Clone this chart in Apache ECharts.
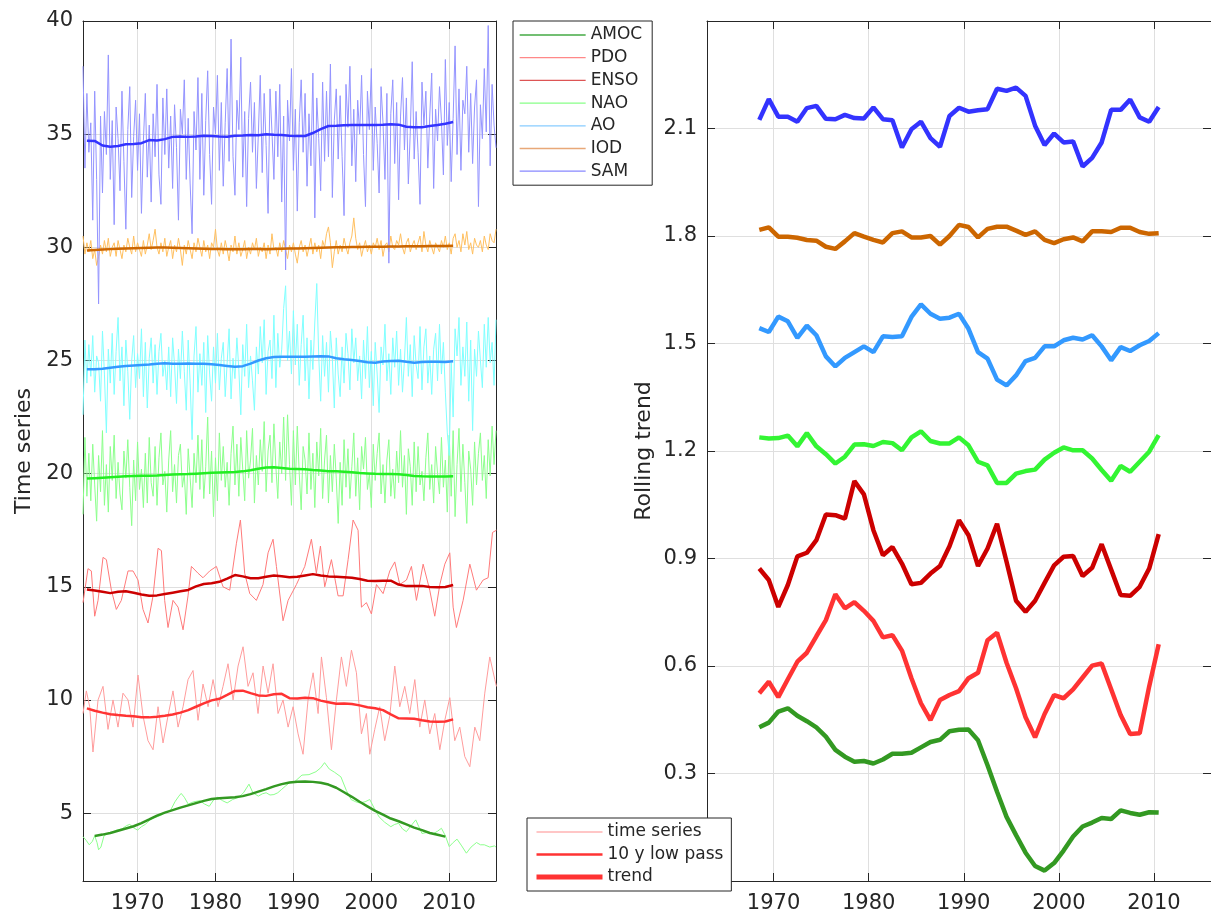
<!DOCTYPE html>
<html>
<head>
<meta charset="utf-8">
<title>Time series and rolling trend</title>
<script src="https://cdn.jsdelivr.net/npm/echarts@6/dist/echarts.min.js"></script>
<style>
  html, body { margin: 0; padding: 0; background: #fff; }
  #chart { width: 1211px; height: 916px; }
</style>
</head>
<body>
<div id="chart"></div>
<script>
// ---- data ----
// thin "time series" lines, quarterly from 1963.0 (SAM, AO, NAO, IOD)
const tsStart = 1963;
const tsStep = 0.25;
const samTs = [
  38.0, 33.5, 36.8, 34.2, 35.5, 31.2, 36.9, 33.0, 27.5, 35.8, 32.4, 36.0, 34.1, 38.5, 33.0, 35.6,
  31.0, 36.2, 34.8, 32.5, 36.9, 33.8, 30.8, 35.2, 37.1, 32.2, 34.9, 36.5, 33.4, 35.9, 31.5, 34.7,
  36.8, 33.1, 35.4, 32.0, 35.9, 34.0, 37.2, 33.2, 31.9, 36.6, 34.1, 37.0, 33.5, 35.8, 32.6, 36.3,
  34.4, 31.2, 36.1, 35.0, 37.4, 33.0, 35.7, 32.8, 30.6, 36.0, 34.3, 37.5, 33.0, 36.8, 32.3, 35.6,
  37.8, 34.1, 31.9, 36.2, 35.0, 37.6, 33.4, 36.4, 32.7, 35.5, 37.9, 33.8, 39.2, 34.0, 32.3, 36.5,
  35.2, 38.4, 33.1, 36.0, 31.8, 35.7, 37.3, 34.2, 36.4, 32.6, 35.0, 37.6, 33.3, 36.8, 34.5, 31.5,
  37.0, 35.1, 33.0, 36.9, 34.0, 37.2, 32.0, 35.8, 29.0, 36.5, 34.7, 37.9, 33.4, 36.1, 31.6, 35.5,
  37.4, 34.2, 36.8, 32.7, 35.9, 33.6, 37.7, 31.3, 36.6, 34.8, 32.5, 37.3, 33.8, 36.9, 34.0, 38.1,
  32.2, 35.6, 37.0, 33.9, 36.7, 34.0, 31.4, 37.2, 35.3, 38.0, 33.6, 36.1, 32.9, 36.5, 35.0, 37.6,
  34.1, 31.8, 36.9, 35.2, 37.9, 33.4, 36.2, 34.6, 32.4, 37.1, 35.5, 33.0, 36.8, 29.3, 35.9, 37.4,
  33.7, 36.4, 32.1, 35.8, 37.5, 34.3, 36.6, 32.8, 35.1, 38.2, 33.9, 36.0, 34.2, 31.9, 37.3, 35.4,
  36.9, 33.5, 35.8, 37.7, 32.6, 36.1, 34.7, 37.1, 35.6, 33.2, 38.3, 34.5, 36.4, 32.9, 35.7, 38.9,
  34.1, 37.0, 33.4, 36.5, 35.9, 38.0, 34.2, 36.8, 33.7, 36.2, 37.4, 31.8, 36.3, 34.8, 37.9, 35.1,
  39.8, 33.6, 37.2, 35.4, 34.4
];
const iodTs = [
  30.5, 29.7, 30.2, 29.8, 30.3, 29.5, 29.9, 29.2, 29.6, 30.1, 29.7, 30.3, 29.8, 30.4, 29.6, 30.0,
  30.2, 29.6, 30.3, 29.9, 29.5, 30.1, 29.8, 30.4, 30.0, 29.7, 30.5, 29.8, 30.2, 29.9, 29.6, 30.3,
  29.7, 30.1, 30.6, 29.9, 30.3, 30.8, 30.0, 29.7, 30.2, 29.8, 30.4, 29.6, 30.0, 30.3, 29.5, 30.1,
  29.8, 30.4, 29.9, 29.2, 30.1, 29.7, 30.3, 29.9, 29.5, 30.2, 29.8, 30.4, 30.0, 29.6, 30.3, 29.8,
  30.1, 29.5, 30.2, 30.0, 30.8, 29.9, 29.6, 30.2, 29.7, 30.3, 29.9, 29.4, 30.1, 29.8, 30.5, 29.7,
  30.2, 29.6, 29.9, 30.3, 29.5, 30.0, 29.7, 30.2, 29.9, 30.4, 29.6, 30.0, 29.8, 30.2, 29.5, 30.1,
  29.7, 30.6, 29.9, 30.0, 29.6, 30.2, 29.8, 30.3, 29.9, 29.5, 30.1, 29.8, 30.2, 29.7, 29.3, 30.0,
  30.3, 29.8, 30.1, 29.6, 30.0, 30.4, 29.7, 30.2, 29.8, 30.1, 29.5, 30.3, 30.0, 30.6, 30.9, 30.2,
  29.1, 29.8, 30.3, 29.7, 30.1, 29.8, 30.4, 30.0, 29.7, 30.2, 30.5, 31.3, 30.4, 29.9, 30.2, 29.6,
  30.0, 30.3, 29.8, 30.1, 29.7, 30.2, 30.0, 30.4, 29.9, 30.3, 29.6, 30.1, 30.2, 29.8, 30.5, 30.0,
  29.9, 30.3, 30.1, 30.6, 30.0, 29.7, 30.2, 30.4, 29.8, 30.1, 30.3, 29.9, 30.2, 30.5, 29.8, 30.7,
  30.1, 29.8, 30.3, 30.0, 29.7, 30.2, 30.0, 29.8, 30.3, 30.0, 30.5, 29.9, 30.2, 29.7, 30.4, 30.6,
  30.0, 30.3, 29.8, 30.6, 30.1, 30.7, 29.9, 30.2, 29.7, 30.4, 30.1, 30.0, 30.3, 29.8, 30.5, 30.1,
  29.9, 30.6, 30.3, 30.2, 30.8
];
const aoTs = [
  22.6, 25.9, 24.0, 25.7, 24.3, 26.1, 23.6, 25.2, 24.9, 23.2, 26.3, 24.4, 21.8, 25.5, 24.0, 26.2,
  23.5, 25.4, 26.9, 24.1, 25.6, 23.0, 25.9, 24.5, 22.4, 25.0, 26.1, 23.8, 25.3, 24.2, 26.4, 23.4,
  25.8, 22.9, 25.1, 26.0, 24.0, 25.7, 23.5, 25.4, 26.2, 24.3, 25.0, 23.7, 25.6, 23.4, 26.0, 24.8,
  23.1, 25.5, 24.2, 26.3, 24.5, 22.8, 25.9, 24.0, 21.5, 25.2, 26.5, 23.6, 25.3, 23.9, 25.8, 22.7,
  26.1, 24.4, 23.2, 25.6, 24.0, 26.2, 23.7, 25.1, 25.8, 23.4, 24.9, 26.4, 23.3, 25.1, 24.2, 26.0,
  24.6, 22.6, 25.7, 24.3, 26.6, 23.8, 25.2, 24.1, 22.8, 25.6, 24.4, 26.5, 24.9, 26.8, 23.5, 25.4,
  25.9, 24.2, 27.0, 23.8, 26.2, 24.7, 25.5, 27.3, 28.3, 25.0, 26.3, 24.4, 27.2, 24.8, 26.6, 23.9,
  25.7, 27.0, 24.1, 26.0, 23.3, 25.9, 24.6, 26.7, 28.4, 25.2, 23.2, 26.1, 24.3, 25.8, 23.6, 26.3,
  25.1, 22.9, 26.0, 24.4, 23.4, 25.6, 24.0, 26.2, 25.3, 23.7, 26.4, 24.9, 26.0, 24.1, 25.2, 23.3,
  25.9, 24.2, 26.5, 23.8, 25.4, 23.0, 25.8, 24.4, 22.7, 25.6, 24.8, 26.6, 24.1, 25.3, 23.5, 26.0,
  24.7, 26.3, 23.9, 25.5, 23.6, 25.0, 26.9, 24.3, 25.7, 23.4, 26.1, 24.8, 24.2, 26.5, 23.7, 25.6,
  26.4, 24.0, 25.2, 23.5, 25.5, 26.2, 24.1, 26.6, 24.4, 25.8, 23.6, 21.8, 20.8, 24.9, 22.5, 26.4,
  25.2, 26.9, 23.9, 25.6, 24.3, 26.7, 23.2, 25.9, 21.9, 25.5, 24.3, 26.3, 25.0, 23.8, 26.6, 24.7,
  26.9, 24.9, 25.8, 23.9, 26.8
];
const naoTs = [
  18.2, 21.6, 19.0, 20.9, 18.8, 21.3, 19.5, 17.9, 20.8, 19.2, 21.9, 18.6, 20.4, 18.3, 21.2, 19.7,
  21.7, 18.9, 20.5, 19.1, 18.4, 21.0, 19.8, 21.5, 19.4, 17.7, 20.6, 18.8, 21.4, 19.3, 20.2, 18.5,
  20.9, 18.7, 21.6, 19.6, 19.0, 21.2, 18.6, 20.7, 21.8, 19.5, 20.1, 18.3, 20.6, 21.9, 19.2, 20.4,
  18.7, 20.8, 21.3, 19.4, 20.0, 18.2, 21.1, 19.8, 18.5, 20.9, 19.6, 21.7, 19.3, 21.5, 18.9, 20.3,
  22.5, 19.1, 21.0, 18.1, 20.7, 18.8, 21.8, 19.7, 21.2, 19.4, 20.5, 18.6, 20.9, 22.1, 19.5, 21.3,
  19.0, 21.6, 20.2, 18.8, 21.9, 19.8, 20.6, 22.0, 18.7, 20.8, 19.5, 21.5, 20.1, 22.3, 19.2, 21.0,
  21.7, 19.6, 22.2, 20.3, 18.9, 21.4, 20.0, 22.5, 19.7, 22.6, 20.4, 18.6, 21.9, 19.5, 22.1, 20.0,
  18.4, 21.2, 20.6, 19.1, 21.8, 19.3, 20.9, 18.5, 21.4, 19.9, 22.0, 18.9, 20.6, 21.7, 18.7, 20.8,
  19.2, 21.3, 19.8, 17.8, 20.5, 18.6, 21.5, 19.4, 21.1, 18.9, 20.3, 21.8, 19.0, 20.7, 18.4, 21.2,
  20.2, 21.6, 19.3, 20.0, 18.5, 21.3, 19.7, 20.9, 21.8, 19.1, 20.4, 18.7, 20.6, 21.5, 19.0, 20.2,
  18.9, 21.0, 19.6, 21.9, 19.4, 20.8, 18.2, 21.1, 20.3, 18.6, 21.4, 19.2, 21.2, 19.5, 20.1, 18.8,
  20.7, 21.8, 19.3, 20.4, 18.7, 21.2, 20.0, 19.1, 21.6, 19.4, 20.6, 18.3, 21.7, 19.0, 21.9, 18.1,
  20.4, 22.0, 19.2, 21.3, 19.6, 17.8, 21.0, 20.2, 18.6, 21.4, 19.5, 20.9, 21.8, 19.7, 20.8, 18.9,
  21.5, 19.9, 22.1, 20.4, 21.9
];
// thin lines with irregular spacing: [year, value]
const ensoTs = [
  [1963.0, 14.3], [1963.64, 15.8], [1964.07, 15.7], [1964.5, 13.7], [1964.93, 14.4], [1965.57, 16.3],
  [1966.0, 16.2], [1966.64, 14.85], [1967.28, 14.0], [1967.92, 14.4], [1968.78, 15.7], [1969.42, 15.7],
  [1970.06, 15.3], [1970.7, 14.0], [1971.34, 13.4], [1971.99, 14.6], [1972.63, 16.7], [1973.06, 16.6],
  [1973.48, 14.4], [1973.91, 13.2], [1974.55, 14.4], [1975.2, 14.1], [1975.84, 13.1], [1976.48, 14.6],
  [1976.91, 15.9], [1977.76, 15.6], [1978.4, 15.4], [1979.26, 15.7], [1980.12, 15.9], [1980.97, 15.0],
  [1981.83, 14.85], [1982.68, 16.9], [1983.2, 17.95], [1983.75, 15.6], [1984.4, 14.7], [1985.25, 14.4],
  [1986.1, 15.1], [1986.75, 16.5], [1987.39, 17.1], [1987.82, 15.9], [1988.67, 13.5], [1989.32, 14.4],
  [1990.39, 15.1], [1991.46, 15.9], [1992.31, 17.1], [1992.95, 15.6], [1993.47, 16.8], [1994.02, 15.0],
  [1994.88, 16.2], [1995.73, 14.6], [1996.38, 14.6], [1997.02, 16.2], [1997.66, 17.95], [1998.3, 17.5],
  [1998.73, 14.1], [1999.37, 14.3], [2000.01, 13.8], [2000.66, 15.1], [2001.51, 14.7], [2002.37, 15.7],
  [2003.01, 16.1], [2003.65, 15.1], [2004.51, 15.3], [2005.15, 15.9], [2005.79, 14.4], [2006.65, 16.0],
  [2007.5, 14.85], [2008.14, 13.7], [2008.79, 15.1], [2009.43, 16.0], [2010.07, 16.5], [2010.5, 14.1],
  [2010.92, 13.2], [2011.78, 14.4], [2012.64, 16.0], [2013.49, 14.85], [2014.35, 15.3], [2014.99, 15.4],
  [2015.55, 17.4], [2016.06, 17.5]
];
const pdoTs = [
  [1963.0, 9.4], [1963.43, 10.4], [1963.86, 9.7], [1964.28, 7.7], [1964.93, 10.0], [1965.57, 10.6],
  [1966.21, 8.7], [1966.85, 10.0], [1967.49, 8.8], [1968.13, 10.3], [1968.78, 10.0], [1969.42, 8.8],
  [1970.06, 11.1], [1970.7, 9.3], [1971.34, 8.2], [1971.99, 7.8], [1972.63, 9.7], [1973.27, 8.1],
  [1973.91, 9.3], [1974.55, 10.4], [1975.2, 8.8], [1975.84, 9.7], [1976.48, 10.9], [1977.12, 11.3],
  [1977.76, 9.1], [1978.4, 10.7], [1979.05, 9.7], [1979.69, 10.9], [1980.33, 9.7], [1980.97, 10.6],
  [1981.61, 11.6], [1982.26, 10.0], [1982.9, 11.5], [1983.54, 12.35], [1984.18, 10.6], [1984.82, 11.2],
  [1985.46, 9.4], [1986.11, 11.5], [1986.75, 10.3], [1987.39, 11.6], [1988.03, 9.4], [1988.67, 10.0],
  [1989.32, 8.8], [1989.96, 9.7], [1990.6, 8.5], [1991.24, 7.6], [1991.88, 10.0], [1992.53, 11.2],
  [1993.17, 9.4], [1993.6, 11.9], [1994.24, 10.1], [1994.88, 7.8], [1995.52, 10.0], [1996.16, 11.9],
  [1996.8, 10.6], [1997.45, 12.2], [1998.09, 11.2], [1998.73, 8.5], [1999.37, 9.4], [1999.8, 7.6],
  [2000.44, 8.7], [2001.08, 9.7], [2001.72, 8.2], [2002.37, 9.3], [2003.01, 11.5], [2003.65, 9.7],
  [2004.29, 10.6], [2004.93, 9.4], [2005.58, 10.9], [2006.22, 8.8], [2006.86, 10.0], [2007.5, 8.5],
  [2008.14, 9.4], [2008.79, 7.8], [2009.43, 9.1], [2010.07, 10.1], [2010.71, 8.2], [2011.35, 8.8],
  [2011.99, 7.5], [2012.64, 7.05], [2013.28, 8.8], [2013.92, 8.2], [2014.56, 10.3], [2015.2, 11.9],
  [2015.85, 10.9], [2016.06, 10.6]
];
const amocTs = [
  [1963.0, 3.96], [1963.4, 3.8], [1963.8, 3.6], [1964.2, 3.75], [1964.5, 4.0], [1964.8, 3.7],
  [1965.0, 3.38], [1965.3, 3.5], [1965.7, 4.0], [1966.2, 4.1], [1966.8, 4.15], [1967.3, 4.25],
  [1968.0, 4.3], [1968.6, 4.45], [1969.0, 4.5], [1969.5, 4.35], [1970.0, 4.25], [1970.5, 4.4],
  [1971.0, 4.5], [1971.6, 4.7], [1972.2, 4.8], [1973.0, 4.9], [1973.6, 5.05], [1974.2, 5.1],
  [1974.8, 5.5], [1975.3, 5.75], [1975.6, 5.87], [1976.0, 5.7], [1976.5, 5.4], [1977.2, 5.5],
  [1978.0, 5.55], [1978.6, 5.4], [1979.2, 5.3], [1979.8, 5.6], [1980.3, 5.7], [1980.9, 5.55],
  [1981.5, 5.45], [1982.2, 5.6], [1983.0, 5.7], [1983.6, 5.9], [1984.3, 6.28], [1984.8, 5.9],
  [1985.5, 5.75], [1986.0, 5.85], [1986.5, 5.9], [1987.0, 5.8], [1987.5, 5.82], [1988.0, 5.9],
  [1988.5, 6.05], [1989.0, 6.2], [1989.5, 6.35], [1990.2, 6.4], [1991.1, 6.68], [1992.0, 6.7],
  [1992.9, 6.83], [1993.5, 7.0], [1994.0, 7.23], [1994.6, 6.95], [1995.3, 6.8], [1996.1, 6.6],
  [1996.8, 6.0], [1997.4, 5.6], [1998.0, 5.5], [1998.5, 5.45], [1999.2, 5.5], [1999.8, 5.6],
  [2000.4, 5.2], [2001.0, 4.83], [2001.7, 4.6], [2002.5, 4.4], [2003.0, 4.5], [2003.5, 4.55],
  [2004.0, 4.3], [2004.5, 4.18], [2005.0, 4.4], [2005.7, 4.7], [2006.1, 4.4], [2006.5, 4.1],
  [2007.2, 4.15], [2008.0, 4.1], [2008.5, 4.2], [2009.0, 4.33], [2009.5, 4.0], [2010.0, 3.52],
  [2010.5, 3.7], [2011.0, 3.85], [2011.6, 3.55], [2012.2, 3.23], [2012.8, 3.5], [2013.5, 3.7],
  [2014.0, 3.6], [2014.5, 3.6], [2015.2, 3.5], [2015.8, 3.55], [2016.0, 3.5]
];

// 10 y low pass, yearly from 1963.5 (AMOC from 1964.5)
const lpStart = 1963.5;
const samLp = [34.71, 34.70, 34.50, 34.44, 34.48, 34.55, 34.56, 34.60, 34.74, 34.72, 34.78, 34.88, 34.90, 34.88, 34.90, 34.93,
  34.92, 34.90, 34.89, 34.93, 34.94, 34.96, 34.95, 35.00, 34.97, 34.96, 34.93, 34.92, 34.92, 35.05, 35.22, 35.36,
  35.37, 35.39, 35.40, 35.40, 35.41, 35.41, 35.42, 35.44, 35.42, 35.33, 35.30, 35.31, 35.36, 35.40, 35.46, 35.54];
const iodLp = [29.86, 29.88, 29.90, 29.92, 29.94, 29.95, 29.96, 29.97, 29.98, 29.99, 29.99, 29.98, 29.97, 29.96, 29.95, 29.94,
  29.93, 29.93, 29.92, 29.92, 29.92, 29.93, 29.93, 29.92, 29.93, 29.94, 29.95, 29.95, 29.96, 29.97, 29.98, 29.99,
  30.00, 30.00, 30.01, 30.01, 30.02, 30.02, 30.03, 30.04, 30.04, 30.05, 30.05, 30.05, 30.06, 30.06, 30.06, 30.07];
const aoLp = [24.61, 24.61, 24.63, 24.68, 24.72, 24.76, 24.78, 24.80, 24.82, 24.86, 24.88, 24.86, 24.86, 24.87, 24.86, 24.85,
  24.83, 24.80, 24.76, 24.72, 24.75, 24.86, 25.00, 25.10, 25.15, 25.16, 25.16, 25.17, 25.17, 25.18, 25.19, 25.18,
  25.10, 25.05, 25.02, 24.98, 24.92, 24.90, 24.95, 24.98, 24.99, 24.94, 24.90, 24.93, 24.94, 24.94, 24.93, 24.97];
const naoLp = [19.78, 19.80, 19.82, 19.84, 19.86, 19.88, 19.90, 19.91, 19.91, 19.92, 19.94, 19.96, 19.97, 19.98, 20.00, 20.02,
  20.04, 20.05, 20.06, 20.07, 20.10, 20.15, 20.22, 20.27, 20.28, 20.25, 20.22, 20.21, 20.19, 20.16, 20.14, 20.11,
  20.10, 20.08, 20.06, 20.03, 20.01, 19.99, 19.98, 19.98, 19.97, 19.94, 19.90, 19.88, 19.87, 19.87, 19.87, 19.88];
const ensoLp = [14.88, 14.84, 14.78, 14.72, 14.78, 14.80, 14.74, 14.66, 14.60, 14.62, 14.68, 14.74, 14.80, 14.86, 15.02, 15.12,
  15.16, 15.22, 15.36, 15.52, 15.46, 15.38, 15.38, 15.44, 15.50, 15.47, 15.42, 15.44, 15.50, 15.56, 15.50, 15.46,
  15.44, 15.42, 15.40, 15.34, 15.27, 15.26, 15.27, 15.27, 15.10, 15.03, 15.04, 15.04, 14.99, 14.98, 14.99, 15.08];
const pdoLp = [9.63, 9.52, 9.44, 9.37, 9.33, 9.30, 9.28, 9.24, 9.23, 9.26, 9.30, 9.36, 9.44, 9.55, 9.70, 9.85,
  9.98, 10.05, 10.22, 10.40, 10.41, 10.30, 10.20, 10.18, 10.25, 10.27, 10.08, 10.06, 10.10, 10.08, 9.97, 9.90,
  9.83, 9.84, 9.82, 9.76, 9.68, 9.63, 9.55, 9.36, 9.19, 9.18, 9.17, 9.10, 9.05, 9.04, 9.05, 9.14];
const amocLpStart = 1964.5;
const amocLp = [3.99, 4.05, 4.12, 4.22, 4.32, 4.42, 4.56, 4.72, 4.89, 5.02, 5.13, 5.24, 5.34, 5.44, 5.54, 5.62,
  5.66, 5.68, 5.70, 5.75, 5.84, 5.95, 6.06, 6.18, 6.28, 6.35, 6.39, 6.40, 6.38, 6.34, 6.26, 6.12,
  5.92, 5.72, 5.50, 5.30, 5.10, 4.93, 4.76, 4.64, 4.50, 4.36, 4.25, 4.12, 4.04, 3.96];

// rolling trend, yearly from 1968.5 to 2010.5
const trendStart = 1968.5;
const samTrend = [2.124, 2.182, 2.133, 2.133, 2.119, 2.157, 2.163, 2.127, 2.126, 2.138, 2.129, 2.128, 2.159, 2.126, 2.123,
  2.047, 2.098, 2.119, 2.073, 2.049, 2.135, 2.158, 2.147, 2.151, 2.154, 2.211, 2.205, 2.214, 2.191, 2.108,
  2.054, 2.086, 2.061, 2.064, 1.994, 2.018, 2.061, 2.152, 2.152, 2.181, 2.131, 2.119, 2.160];
const iodTrend = [1.817, 1.824, 1.798, 1.798, 1.795, 1.789, 1.787, 1.770, 1.764, 1.785, 1.808, 1.798, 1.789, 1.782, 1.808,
  1.813, 1.796, 1.796, 1.800, 1.776, 1.800, 1.831, 1.825, 1.796, 1.820, 1.826, 1.826, 1.815, 1.803, 1.813,
  1.789, 1.780, 1.791, 1.796, 1.785, 1.813, 1.813, 1.811, 1.823, 1.823, 1.811, 1.806, 1.808];
const aoTrend = [1.543, 1.532, 1.575, 1.562, 1.516, 1.550, 1.523, 1.464, 1.436, 1.460, 1.476, 1.492, 1.476, 1.520, 1.518,
  1.520, 1.574, 1.609, 1.583, 1.569, 1.572, 1.583, 1.541, 1.476, 1.458, 1.399, 1.383, 1.411, 1.451, 1.460,
  1.492, 1.492, 1.509, 1.516, 1.511, 1.523, 1.492, 1.453, 1.490, 1.479, 1.495, 1.507, 1.529];
const naoTrend = [1.238, 1.235, 1.236, 1.243, 1.213, 1.250, 1.213, 1.191, 1.165, 1.184, 1.218, 1.219, 1.214, 1.225, 1.222,
  1.202, 1.238, 1.255, 1.228, 1.221, 1.221, 1.238, 1.216, 1.170, 1.160, 1.111, 1.111, 1.137, 1.144, 1.148,
  1.176, 1.195, 1.210, 1.202, 1.202, 1.179, 1.147, 1.117, 1.158, 1.142, 1.170, 1.198, 1.244];
const ensoTrend = [0.872, 0.840, 0.765, 0.826, 0.906, 0.916, 0.951, 1.023, 1.021, 1.011, 1.116, 1.079, 0.979, 0.909, 0.932,
  0.886, 0.828, 0.832, 0.858, 0.879, 0.934, 1.007, 0.965, 0.879, 0.928, 0.997, 0.891, 0.782, 0.751, 0.782,
  0.832, 0.881, 0.905, 0.907, 0.851, 0.874, 0.940, 0.869, 0.798, 0.796, 0.821, 0.872, 0.968];
const pdoTrend = [0.524, 0.556, 0.513, 0.563, 0.612, 0.637, 0.683, 0.728, 0.800, 0.761, 0.778, 0.754, 0.726, 0.680, 0.686,
  0.643, 0.566, 0.496, 0.449, 0.505, 0.519, 0.530, 0.566, 0.581, 0.672, 0.693, 0.609, 0.538, 0.457, 0.401,
  0.466, 0.519, 0.510, 0.535, 0.568, 0.601, 0.607, 0.535, 0.463, 0.410, 0.412, 0.543, 0.661];
const amocTrend = [0.429, 0.442, 0.473, 0.482, 0.461, 0.446, 0.429, 0.403, 0.366, 0.347, 0.333, 0.335, 0.328, 0.339, 0.355,
  0.355, 0.358, 0.373, 0.388, 0.394, 0.418, 0.422, 0.423, 0.393, 0.323, 0.249, 0.179, 0.128, 0.079, 0.042,
  0.029, 0.050, 0.085, 0.124, 0.152, 0.163, 0.176, 0.173, 0.197, 0.190, 0.185, 0.192, 0.191];

const xTicks = [1970, 1980, 1990, 2000, 2010];
const leftYTicks = [5, 10, 15, 20, 25, 30, 35, 40];
const indexNames = ['AMOC', 'PDO', 'ENSO', 'NAO', 'AO', 'IOD', 'SAM'];
const styleNames = ['time series', '10 y low pass', 'trend'];

// ---- helpers ----
const FONT = 'DejaVu Sans';
const INK = '#262626';
const GRID = '#dfdfdf';

function evenly(start, step, values) {
  return values.map((v, i) => [start + i * step, v]);
}

function axisBase(extra) {
  return Object.assign({
    type: 'value',
    axisLine: {show: true, onZero: false, lineStyle: {color: INK, width: 1}},
    axisTick: {show: true, inside: true, length: 8, lineStyle: {color: INK}},
    axisLabel: {show: false},
    splitLine: {show: false}
  }, extra);
}

function line(name, data, color, width, xi, yi) {
  return {
    name: name,
    type: 'line',
    data: data,
    xAxisIndex: xi,
    yAxisIndex: yi,
    symbol: 'none',
    smooth: false,
    silent: true,
    color: color,
    lineStyle: {color: color, width: width},
    z: width > 1.5 ? 3 : 2
  };
}

const chart = echarts.init(document.getElementById('chart'));

const labelStyle = {show: true, color: INK, fontSize: 21, fontFamily: FONT};
const yearLabel = v => String(v);

const series = [
  // left panel: thin series + 10 y low pass
  line('amocTs', amocTs, '#8cff8c', 1, 0, 0),
  line('amocLp', evenly(amocLpStart, 1, amocLp), '#339922', 2.5, 0, 0),
  line('pdoTs', pdoTs, '#ff9c9c', 1, 0, 0),
  line('pdoLp', evenly(lpStart, 1, pdoLp), '#ff3333', 2.5, 0, 0),
  line('ensoTs', ensoTs, '#ff7a7a', 1, 0, 0),
  line('ensoLp', evenly(lpStart, 1, ensoLp), '#cc0000', 2.5, 0, 0),
  line('naoTs', evenly(tsStart, tsStep, naoTs), '#8cff8c', 1, 0, 0),
  line('naoLp', evenly(lpStart, 1, naoLp), '#22ee22', 2.5, 0, 0),
  line('aoTs', evenly(tsStart, tsStep, aoTs), '#80ffff', 1, 0, 0),
  line('aoLp', evenly(lpStart, 1, aoLp), '#3399ff', 2.5, 0, 0),
  line('iodTs', evenly(tsStart, tsStep, iodTs), '#ffc060', 1, 0, 0),
  line('iodLp', evenly(lpStart, 1, iodLp), '#cc6600', 2.5, 0, 0),
  line('samTs', evenly(tsStart, tsStep, samTs), '#9494ff', 1, 0, 0),
  line('samLp', evenly(lpStart, 1, samLp), '#3333ff', 2.5, 0, 0),
  // right panel: rolling trend
  line('samTrend', evenly(trendStart, 1, samTrend), '#3333ff', 4.5, 2, 2),
  line('iodTrend', evenly(trendStart, 1, iodTrend), '#cc6600', 4.5, 2, 2),
  line('aoTrend', evenly(trendStart, 1, aoTrend), '#3399ff', 4.5, 2, 2),
  line('naoTrend', evenly(trendStart, 1, naoTrend), '#33f533', 4.5, 2, 2),
  line('ensoTrend', evenly(trendStart, 1, ensoTrend), '#cc0000', 4.5, 2, 2),
  line('pdoTrend', evenly(trendStart, 1, pdoTrend), '#ff3333', 4.5, 2, 2),
  line('amocTrend', evenly(trendStart, 1, amocTrend), '#339922', 4.5, 2, 2)
];

// legend-only entries
const legendColors = ['#44aa44', '#ff8888', '#dd5555', '#88ff88', '#88ccff', '#e8a878', '#8888ff'];
indexNames.forEach((n, i) => series.push(line(n, [], legendColors[i], 1.3, 0, 0)));
series.push(line(styleNames[0], [], '#ffb3b3', 1.3, 0, 0));
series.push(line(styleNames[1], [], '#ff3333', 2.5, 0, 0));
series.push(line(styleNames[2], [], '#ff3333', 5, 0, 0));

const legendText = {color: INK, fontSize: 17, fontFamily: FONT, lineHeight: 18};

const option = {
  animation: false,
  backgroundColor: '#fff',
  grid: [
    {left: 83, right: 715, top: 21, bottom: 35},
    {left: 707, right: -5, top: 21, bottom: 35}
  ],
  xAxis: [
    axisBase({gridIndex: 0, position: 'bottom', min: 1963, max: 2016,
      axisTick: {show: true, inside: true, length: 8, lineStyle: {color: INK}, customValues: xTicks},
      axisLabel: Object.assign({margin: 12, customValues: xTicks, formatter: yearLabel}, labelStyle),
      splitLine: {show: true, lineStyle: {color: GRID, width: 1}}}),
    axisBase({gridIndex: 0, position: 'top', min: 1963, max: 2016,
      axisTick: {show: true, inside: true, length: 8, lineStyle: {color: INK}, customValues: xTicks}}),
    axisBase({gridIndex: 1, position: 'bottom', min: 1963, max: 2016,
      axisTick: {show: true, inside: true, length: 8, lineStyle: {color: INK}, customValues: xTicks},
      axisLabel: Object.assign({margin: 12, customValues: xTicks, formatter: yearLabel}, labelStyle),
      splitLine: {show: true, lineStyle: {color: GRID, width: 1}}}),
    axisBase({gridIndex: 1, position: 'top', min: 1963, max: 2016,
      axisTick: {show: true, inside: true, length: 8, lineStyle: {color: INK}, customValues: xTicks}})
  ],
  yAxis: [
    axisBase({gridIndex: 0, position: 'left', min: 2, max: 40,
      name: 'Time series', nameLocation: 'middle', nameGap: 48,
      nameTextStyle: {color: INK, fontSize: 22, fontFamily: FONT},
      axisTick: {show: true, inside: true, length: 8, lineStyle: {color: INK}, customValues: leftYTicks},
      axisLabel: Object.assign({margin: 10, customValues: leftYTicks}, labelStyle),
      splitLine: {show: true, lineStyle: {color: GRID, width: 1}}}),
    axisBase({gridIndex: 0, position: 'right', min: 2, max: 40,
      axisTick: {show: true, inside: true, length: 8, lineStyle: {color: INK}, customValues: leftYTicks}}),
    axisBase({gridIndex: 1, position: 'left', min: 0, max: 2.4, interval: 0.3,
      name: 'Rolling trend', nameLocation: 'middle', nameGap: 52,
      nameTextStyle: {color: INK, fontSize: 22, fontFamily: FONT},
      axisLabel: Object.assign({margin: 10,
        formatter: v => (v < 0.01 || v > 2.35) ? '' : v.toFixed(1)}, labelStyle),
      splitLine: {show: true, lineStyle: {color: GRID, width: 1}}}),
    axisBase({gridIndex: 1, position: 'right', min: 0, max: 2.4, interval: 0.3})
  ],
  legend: [
    {
      data: indexNames, orient: 'vertical', left: 513, top: 21,
      itemWidth: 66, itemHeight: 18, itemGap: 4.7, padding: [5, 10, 5, 6],
      itemStyle: {opacity: 0}, lineStyle: {width: 'inherit'},
      backgroundColor: '#fff', borderColor: INK, borderWidth: 1, borderRadius: 0,
      textStyle: legendText, selectedMode: false
    },
    {
      data: styleNames, orient: 'vertical', left: 527, top: 818,
      itemWidth: 66, itemHeight: 18, itemGap: 4.5, padding: [5, 8, 5, 7],
      itemStyle: {opacity: 0}, lineStyle: {width: 'inherit'},
      backgroundColor: '#fff', borderColor: INK, borderWidth: 1, borderRadius: 0,
      textStyle: legendText, selectedMode: false
    }
  ],
  series: series
};

chart.setOption(option);
</script>
</body>
</html>
